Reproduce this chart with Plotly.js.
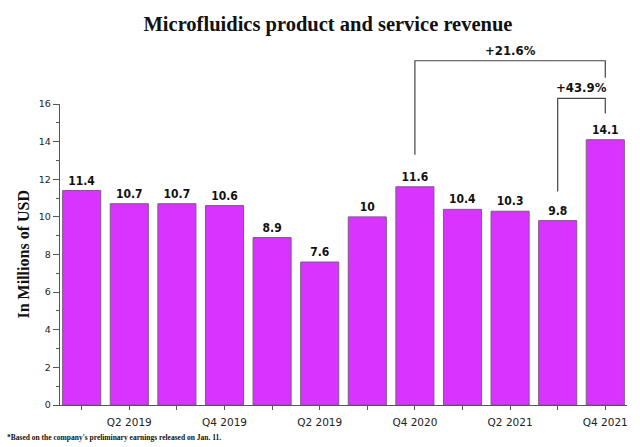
<!DOCTYPE html>
<html>
<head>
<meta charset="utf-8">
<script src="https://cdn.plot.ly/plotly-3.0.1.min.js"></script>
<style>
  html, body { margin: 0; padding: 0; background: #ffffff; }
  #chart { width: 640px; height: 447px; }
</style>
</head>
<body>
<div id="chart"></div>
<script>
// Quarterly microfluidics revenue, Q1 2019 through Q4 2021 (millions of USD)
const quarters = ["Q1 2019", "Q2 2019", "Q3 2019", "Q4 2019", "Q1 2020", "Q2 2020",
                  "Q3 2020", "Q4 2020", "Q1 2021", "Q2 2021", "Q3 2021", "Q4 2021"];
const revenue = [11.4, 10.7, 10.7, 10.6, 8.9, 7.6, 10, 11.6, 10.4, 10.3, 9.8, 14.1];
// Axis labels, shown on every second quarter
const tickLabels = ["", "Q2 2019", "", "Q4 2019", "", "Q2 2019",
                    "", "Q4 2020", "", "Q2 2021", "", "Q4 2021"];
// Growth comparisons: index of the base quarter and of the latest quarter
const growthFrom = [7, 10];
const growthTo = [11, 11];

// Bracket heights (axis units): left leg end, top bar, right leg end
const bracketLevels = [
  { left: 13.3, top: 18.3, right: 17.4 },
  { left: 11.35, top: 16.3, right: 15.5 }
];

const yMax = 16;
const x = revenue.map((_, i) => i);
const toPaper = v => v / yMax;

const shapes = [];
const annotations = [];

growthFrom.forEach((from, k) => {
  const to = growthTo[k];
  const lv = bracketLevels[k];
  shapes.push({
    type: "path",
    xref: "x", yref: "paper",
    path: `M ${from},${toPaper(lv.left)} L ${from},${toPaper(lv.top)} L ${to},${toPaper(lv.top)} L ${to},${toPaper(lv.right)}`,
    line: { color: "#444444", width: 1.2 }
  });
  const pct = ((revenue[to] / revenue[from] - 1) * 100).toFixed(1);
  annotations.push({
    xref: "x", yref: "paper",
    x: (from + to) / 2, y: toPaper(lv.top),
    yanchor: "bottom", xanchor: "center", yshift: 1,
    showarrow: false,
    text: "+" + pct + "%",
    font: { family: "DejaVu Sans Condensed, DejaVu Sans, sans-serif", size: 13, weight: 700, color: "#111111" }
  });
});

// Axis title, centred on the plot area
annotations.push({
  xref: "paper", yref: "paper", x: 0, y: 0.5, xshift: -37,
  xanchor: "center", yanchor: "middle", textangle: -90, showarrow: false,
  text: "In Millions of USD",
  font: { family: "Liberation Serif, Times New Roman, serif", size: 16, weight: 700, color: "#111111" }
});

// Footnote
annotations.push({
  xref: "paper", yref: "paper", x: 0, y: 0, xshift: -55, yshift: -32,
  xanchor: "left", yanchor: "middle", showarrow: false,
  text: "*Based on the company's preliminary earnings released on Jan. 11.",
  font: { family: "Liberation Serif, Times New Roman, serif", size: 7.5, weight: 700, color: "#111111" }
});

const trace = {
  type: "bar",
  x: x,
  y: revenue,
  customdata: quarters,
  text: revenue.map(String),
  textposition: "outside",
  cliponaxis: false,
  textfont: { family: "DejaVu Sans Condensed, DejaVu Sans, sans-serif", size: 12, weight: 700, color: "#111111" },
  marker: { color: "#D934FF", line: { color: "#7a5a80", width: 1 } },
  hovertemplate: "%{customdata}: %{y}<extra></extra>"
};

const layout = {
  width: 640, height: 447,
  margin: { l: 60, r: 13, t: 104, b: 42 },
  paper_bgcolor: "#ffffff",
  plot_bgcolor: "#ffffff",
  showlegend: false,
  bargap: 0.2,
  title: {
    text: "Microfluidics product and service revenue",
    font: { family: "Liberation Serif, Times New Roman, serif", size: 20.5, weight: 700, color: "#111111" },
    xref: "container", x: 328 / 640, xanchor: "center",
    yref: "container", y: 1 - 24 / 447, yanchor: "middle"
  },
  xaxis: {
    range: [-0.456, 11.456],
    tickmode: "array",
    tickvals: x,
    ticktext: tickLabels,
    ticks: "outside", ticklen: 4, tickwidth: 1, tickcolor: "#555555",
    showline: true, linecolor: "#555555", linewidth: 1.3,
    showgrid: false, zeroline: false,
    tickfont: { family: "DejaVu Sans, sans-serif", size: 10.5, color: "#222222" },
    ticklabelstandoff: 3
  },
  yaxis: {
    range: [0, yMax],
    dtick: 2,
    ticks: "outside", ticklen: 6, tickwidth: 1, tickcolor: "#555555",
    minor: { dtick: 1, ticks: "outside", ticklen: 3, tickcolor: "#555555" },
    showline: true, linecolor: "#555555", linewidth: 1.3,
    showgrid: false, zeroline: false,
    tickfont: { family: "DejaVu Sans, sans-serif", size: 9.5, color: "#222222" }
  },
  shapes: shapes,
  annotations: annotations
};

Plotly.newPlot("chart", [trace], layout, { staticPlot: true, displayModeBar: false });
</script>
</body>
</html>
